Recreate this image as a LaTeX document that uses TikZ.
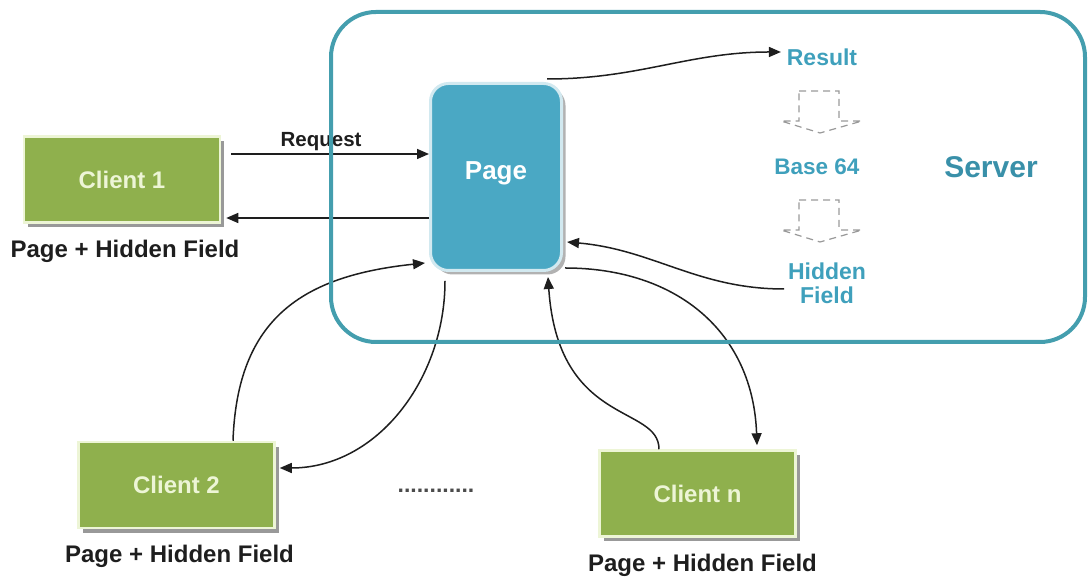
\documentclass[tikz,border=0pt]{standalone}
\usepackage{fontspec}
\setmainfont{Liberation Sans}
\usetikzlibrary{arrows.meta, positioning, shadows}
\definecolor{cgreen}{HTML}{8FB04D}
\definecolor{cpale}{HTML}{EDF5D6}
\definecolor{cblue}{HTML}{4AA8C4}
\definecolor{cteal}{HTML}{3FA0BC}
\definecolor{cedge}{HTML}{449EAE}
\definecolor{cink}{HTML}{1E1E1E}
\tikzset{
  every picture/.style={font=\bfseries, line width=1.2pt},
  client/.style={draw=cpale, fill=cgreen, line width=2.5pt, minimum width=196pt, minimum height=86pt,
    text=cpale, font=\fontsize{24}{28}\selectfont\bfseries,
    drop shadow={shadow xshift=4pt, shadow yshift=-5pt, fill=black!40, opacity=1}},
  pagebox/.style={draw=cblue!25, fill=cblue, line width=3pt, rounded corners=18pt, minimum width=131pt, minimum height=187pt,
    text=white, font=\fontsize{26}{30}\selectfont\bfseries,
    drop shadow={shadow xshift=4pt, shadow yshift=-4pt, fill=black!30, opacity=1}},
  link/.style={-{Triangle[length=12pt, width=10pt]}, draw=cink, line width=1.5pt},
  caption/.style={font=\fontsize{24}{28}\selectfont\bfseries, text=cink},
  tag/.style={font=\fontsize{23}{24}\selectfont\bfseries, text=cteal, align=center},
  conv/.style={draw=gray!80, line width=1.2pt, dash pattern=on 7pt off 5pt},
}

\begin{document}
\begin{tikzpicture}[x=1pt, y=1pt]
  \useasboundingbox (0,0) rectangle (1088,577);
  % page held on the server
  \node[pagebox] (page) at (496,400) {\raisebox{12pt}{Page}};
  % clients
  \node[client] (client1) at (122,397.5) {Client 1};
  \node[client] (client2) at (176.5,92) {Client 2};
  \node[client] (clientn) at (697.5,83.5) {Client n};
  \node[caption, below=12pt of client1, xshift=3pt] (cap1) {Page + Hidden Field};
  \node[caption, below=12pt of client2, xshift=3pt] (cap2) {Page + Hidden Field};
  \node[caption, below=12pt of clientn, xshift=5pt] (capn) {Page + Hidden Field};
  \node[font=\fontsize{23}{23}\selectfont\bfseries, text=cink!80] (gap) at (436,86) {............};
  % conversion chain
  \node[tag] (result) at (822,520) {Result};
  \node[tag, font=\fontsize{22.5}{24}\selectfont\bfseries] (base) at (817,410) {Base 64};
  \node[tag] (hidden) at (827,294) {Hidden\\Field};
  \node[tag, font=\fontsize{30}{32}\selectfont\bfseries, text=cteal!90!black] (server) at (991,410) {Server};
  \foreach \dy in {0,-109}
    \draw[conv, shift={(0,\dy)}] (799,486) -- (839,486) -- (839,456) -- (862,456) -- (820,444) -- (781,456) -- (799,456) -- cycle;
  % client 1
  \coordinate (c1out) at ([xshift=10pt, yshift=25.5pt]client1.east);
  \coordinate (c1in) at ([xshift=5pt, yshift=-38.5pt]client1.east);
  \draw[link] (c1out) -- (c1out -| page.west)
    node[midway, above, inner sep=2pt, xshift=-9pt, font=\fontsize{20.5}{24}\selectfont\bfseries, text=cink] (req) {Request};
  \draw[link] (c1in -| page.west) -- (c1in);
  % inside the server
  \draw[link] ([xshift=-16pt, yshift=3pt]page.north east) to[out=0, in=180] ([xshift=-2pt, yshift=5pt]result.west);
  \draw[link] ([yshift=-6pt]hidden.west) to[out=180, in=-5] ([xshift=4pt, yshift=-65pt]page.east);
  % client 2
  \draw[link] ([xshift=56.5pt]client2.north) to[out=88, in=186, looseness=1.2] ([xshift=-4pt, yshift=-86pt]page.west);
  \draw[link] ([xshift=-51pt, yshift=-9pt]page.south) to[out=-90, in=0] ([xshift=4pt, yshift=17pt]client2.east);
  % client n
  \draw[link] ([xshift=2pt, yshift=4pt]page.south east) to[out=0, in=92, looseness=1.1] ([xshift=59.5pt, yshift=4pt]clientn.north);
  \draw[link] ([xshift=-38.5pt]clientn.north) .. controls +(0,45) and +(10,-150) .. ([xshift=52pt, yshift=-5pt]page.south);
  % server frame
  \draw[cedge, line width=4pt, rounded corners=45pt] (331,235) rectangle (1085,565);
\end{tikzpicture}
\end{document}
